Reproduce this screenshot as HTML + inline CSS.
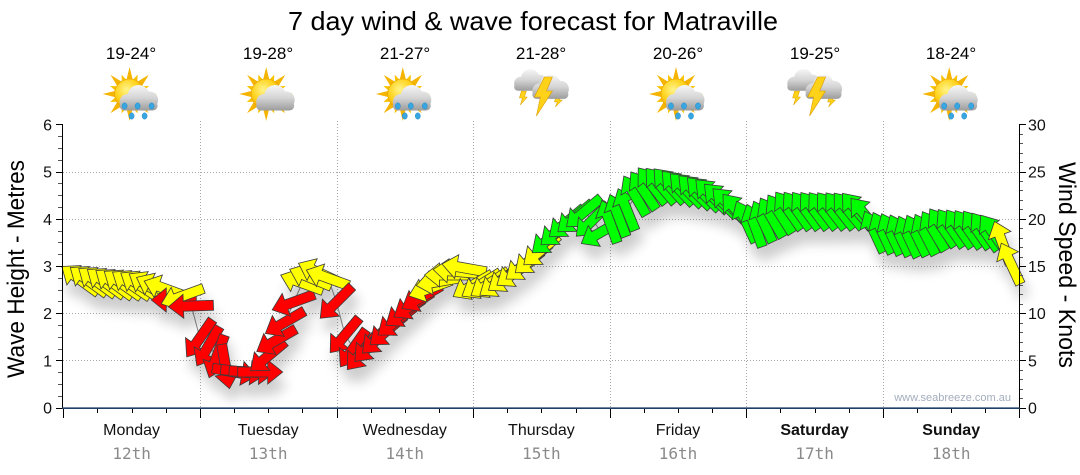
<!DOCTYPE html>
<html><head><meta charset="utf-8">
<style>
html,body{margin:0;padding:0;background:#fff;}
svg{display:block;}
text{font-family:"Liberation Sans",Arial,sans-serif;}
</style></head><body>
<svg id="s" width="1080" height="475" viewBox="0 0 1080 475" xmlns="http://www.w3.org/2000/svg">
<defs>
 <filter id="sh" filterUnits="userSpaceOnUse" x="0" y="0" width="1080" height="475">
  <feGaussianBlur in="SourceAlpha" stdDeviation="6"/>
  <feOffset dx="4" dy="13"/>
  <feComponentTransfer><feFuncA type="linear" slope="0.2"/></feComponentTransfer>
  <feMerge><feMergeNode/><feMergeNode in="SourceGraphic"/></feMerge>
 </filter>
 <radialGradient id="sunG" cx="40%" cy="35%" r="70%"><stop offset="0" stop-color="#fff48a"/><stop offset="0.55" stop-color="#ffd21a"/><stop offset="1" stop-color="#f09a00"/></radialGradient>
 <linearGradient id="cloudG" gradientUnits="userSpaceOnUse" x1="0" y1="-14" x2="0" y2="12"><stop offset="0" stop-color="#f6f6f6"/><stop offset="0.5" stop-color="#d4d4d4"/><stop offset="1" stop-color="#9a9a9a"/></linearGradient>
 <polygon id="arr" points="23,0 8,-12 8,-5 -22,-5 -22,5 8,5 8,12" stroke="#3a3a3a" stroke-width="0.8" stroke-linejoin="miter"/>
 <polygon id="rl" points="-3.2,-14 0,-27 3.2,-14" fill="#f5b400"/>
 <polygon id="rs" points="-2.6,-14 0,-21 2.6,-14" fill="#f8c200"/>
 <g id="sun">
  <use href="#rl"/><use href="#rs" transform="rotate(22.5)"/>
  <use href="#rl" transform="rotate(45)"/><use href="#rs" transform="rotate(67.5)"/>
  <use href="#rl" transform="rotate(90)"/><use href="#rs" transform="rotate(112.5)"/>
  <use href="#rl" transform="rotate(135)"/><use href="#rs" transform="rotate(157.5)"/>
  <use href="#rl" transform="rotate(180)"/><use href="#rs" transform="rotate(202.5)"/>
  <use href="#rl" transform="rotate(225)"/><use href="#rs" transform="rotate(247.5)"/>
  <use href="#rl" transform="rotate(270)"/><use href="#rs" transform="rotate(292.5)"/>
  <use href="#rl" transform="rotate(315)"/><use href="#rs" transform="rotate(337.5)"/>
  <circle r="15" fill="url(#sunG)" stroke="#e8a000" stroke-width="0.6"/>
 </g>
 <g id="cloud" fill="url(#cloudG)">
  <circle cx="-10" cy="3" r="8"/>
  <circle cx="1" cy="-3" r="11"/>
  <circle cx="12" cy="1" r="8.5"/>
  <rect x="-18" y="2" width="38" height="9.5" rx="4.75"/>
 </g>
 <g id="drops" fill="#38a6e0" stroke="#1f7fbf" stroke-width="0.4">
  <ellipse cx="-7" cy="106" rx="2.6" ry="3.2"/>
  <ellipse cx="6" cy="106" rx="2.6" ry="3.2"/>
  <ellipse cx="20" cy="106" rx="2.6" ry="3.2"/>
  <ellipse cx="0" cy="116" rx="2.6" ry="3.2"/>
  <ellipse cx="13" cy="116" rx="2.6" ry="3.2"/>
 </g>
 <g id="rainIcon">
  <use href="#sun" transform="translate(-2,94)"/>
  <use href="#cloud" transform="translate(6,99)"/>
  <use href="#drops"/>
 </g>
 <g id="pcIcon">
  <use href="#sun" transform="translate(-2,94)"/>
  <use href="#cloud" transform="translate(6,99)"/>
 </g>
 <g id="stormIcon">
  <polygon points="-20,91 -15,91 -17,97 -14,97 -21,105 -19,98 -22,98" fill="#ffd21a" stroke="#d99a00" stroke-width="0.5"/>
  <polygon points="15,95 20,95 18,100 21,100 14,107 16,102 13,102" fill="#ffd21a" stroke="#d99a00" stroke-width="0.5"/>
  <use href="#cloud" transform="translate(-12,81) scale(0.85)"/>
  <use href="#cloud" transform="translate(8,88) scale(0.95)"/>
  <polygon points="3,77 11,77 5,91 11,91 -5,116 -1,97 -7,97" fill="#ffd21a" stroke="#d99a00" stroke-width="0.6"/>
 </g>
</defs>
<rect width="1080" height="475" fill="#fff"/>
<g id="grid"></g>
<g id="lines"></g>
<g id="arrows" filter="url(#sh)"></g>
<g id="axes"></g>

<text x="533" y="30" font-size="26" text-anchor="middle" textLength="490" lengthAdjust="spacingAndGlyphs" fill="#000">7 day wind &amp; wave forecast for Matraville</text>

<g font-size="17" text-anchor="middle" fill="#000">
 <text x="131" y="59">19-24°</text>
 <text x="268" y="59">19-28°</text>
 <text x="405" y="59">21-27°</text>
 <text x="541" y="59">21-28°</text>
 <text x="678" y="59">20-26°</text>
 <text x="815" y="59">19-25°</text>
 <text x="951" y="59">18-24°</text>
</g>
<use href="#rainIcon" transform="translate(131.6,0)"/>
<use href="#pcIcon" transform="translate(268.2,0)"/>
<use href="#rainIcon" transform="translate(404.8,0)"/>
<use href="#stormIcon" transform="translate(541.4,0)"/>
<use href="#rainIcon" transform="translate(678,0)"/>
<use href="#stormIcon" transform="translate(814.6,0)"/>
<use href="#rainIcon" transform="translate(951.2,0)"/>

<text transform="translate(24,269) rotate(-90)" font-size="24" text-anchor="middle" textLength="218" lengthAdjust="spacingAndGlyphs" fill="#000">Wave Height - Metres</text>
<text transform="translate(1059,265) rotate(90)" font-size="24" text-anchor="middle" textLength="206" lengthAdjust="spacingAndGlyphs" fill="#000">Wind Speed - Knots</text>

<text x="1011" y="401" font-size="11" text-anchor="end" fill="#a3adbd">www.seabreeze.com.au</text>

<g font-size="16" text-anchor="middle" fill="#111">
 <text x="131.6" y="435">Monday</text>
 <text x="268.2" y="435">Tuesday</text>
 <text x="404.8" y="435">Wednesday</text>
 <text x="541.4" y="435">Thursday</text>
 <text x="678" y="435">Friday</text>
 <text x="814.6" y="435" font-weight="bold">Saturday</text>
 <text x="951.2" y="435" font-weight="bold">Sunday</text>
</g>
<g font-size="16" text-anchor="middle" fill="#8a8a8a">
 <text x="131.6" y="459" style="font-family:'DejaVu Sans Mono','Liberation Mono',monospace">12th</text>
 <text x="268.2" y="459" style="font-family:'DejaVu Sans Mono','Liberation Mono',monospace">13th</text>
 <text x="404.8" y="459" style="font-family:'DejaVu Sans Mono','Liberation Mono',monospace">14th</text>
 <text x="541.4" y="459" style="font-family:'DejaVu Sans Mono','Liberation Mono',monospace">15th</text>
 <text x="678" y="459" style="font-family:'DejaVu Sans Mono','Liberation Mono',monospace">16th</text>
 <text x="814.6" y="459" style="font-family:'DejaVu Sans Mono','Liberation Mono',monospace">17th</text>
 <text x="951.2" y="459" style="font-family:'DejaVu Sans Mono','Liberation Mono',monospace">18th</text>
</g>
</svg>
<script>
(function(){
const NS="http://www.w3.org/2000/svg";
function el(tag,attrs,parent){const e=document.createElementNS(NS,tag);for(const k in attrs)e.setAttribute(k,attrs[k]);parent.appendChild(e);return e;}
const X0=63.3, DW=136.6, HX=DW/24, Y0=407.7, MY=47.23, KY=9.447;
const grid=document.getElementById('grid'), axes=document.getElementById('axes');
for(let k=1;k<=5;k++){const y=Math.round(Y0-k*MY)+0.5;el('line',{x1:63,x2:1019,y1:y,y2:y,stroke:'#a8a8a8','stroke-dasharray':'1,2'},grid);}
for(let i=1;i<=6;i++){const x=Math.round(X0+i*DW)+0.5;el('line',{x1:x,x2:x,y1:121,y2:407,stroke:'#a8a8a8','stroke-dasharray':'1,2'},grid);}
el('line',{x1:62.5,x2:62.5,y1:124,y2:408,stroke:'#000','stroke-width':1},axes);
for(let m=0;m<=24;m++){const y=Math.round(Y0-m*MY/4)+0.5;const maj=m%4==0;el('line',{x1:maj?56:58,x2:62,y1:y,y2:y,stroke:maj?'#000':'#555'},axes);
 if(maj){const t=el('text',{x:52,y:Y0-m*MY/4+6,'font-size':16,'text-anchor':'end',fill:'#111'},axes);t.textContent=String(m/4);}}
el('line',{x1:1019.5,x2:1019.5,y1:124,y2:408,stroke:'#000','stroke-width':1},axes);
for(let k=0;k<=30;k++){const y=Math.round(Y0-k*KY)+0.5;const maj=k%5==0;el('line',{x1:1020,x2:maj?1026:1023,y1:y,y2:y,stroke:maj?'#000':'#555'},axes);
 if(maj){const t=el('text',{x:1028,y:Y0-k*KY+6,'font-size':16,'text-anchor':'start',fill:'#111'},axes);t.textContent=String(k);}}
el('line',{x1:62,x2:1020,y1:408.2,y2:408.2,stroke:'#1f3f66','stroke-width':1.6},axes);
for(let q=0;q<=28;q++){const x=Math.round(X0+q*DW/4)+0.5;const maj=q%4==0;el('line',{x1:x,x2:x,y1:409,y2:maj?418:413,stroke:'#000'},axes);}
const K=[[3,280,216,'Y'],[9,284,216,'Y'],[15,286,212,'Y'],[18,289,200,'Y'],[19.5,300,180,'R'],[21,296,160,'Y'],[22.5,306,178,'R'],
[24,338,125,'R'],[25.5,346,120,'R'],[27,356,110,'R'],[28.5,366,80,'R'],[30,372,10,'R'],[34.5,372,0,'R'],[36,356,140,'R'],[37.5,340,150,'R'],[39,322,150,'R'],[40.5,302,160,'R'],
[42,283,200,'Y'],[45,273,205,'Y'],[46.5,278,200,'Y'],[48,302,135,'R'],[49.5,335,130,'R'],[51,348,125,'R'],[52.5,352,130,'R'],[57,330,140,'R'],[60,312,145,'R'],[63,297,150,'R'],
[64.5,288,160,'Y'],[67.5,275,180,'Y'],[70.5,268,190,'Y'],[72,285,150,'Y'],[76.5,282,145,'Y'],[79.5,272,145,'Y'],[82.5,258,140,'Y'],[84,250,140,'Y'],
[85.5,238,140,'G'],[88.5,222,140,'G'],[91.5,212,140,'G'],[93,220,135,'G'],[94.5,232,150,'G'],[96,222,250,'G'],[99,210,248,'G'],[100.5,196,240,'G'],[103.5,186,232,'G'],
[106.5,186,228,'G'],[109.5,190,225,'G'],[114,196,225,'G'],[117,205,225,'G'],[118.5,212,230,'G'],[120,222,245,'G'],[121.5,226,250,'G'],[124.5,218,240,'G'],[127.5,211,235,'G'],
[136.5,211,232,'G'],[139.5,211,230,'G'],[141,216,230,'G'],[142.5,232,245,'G'],[148.5,237,245,'G'],[151.5,235,243,'G'],[154.5,228,236,'G'],[160.5,230,235,'G'],[163.5,234,235,'G'],
[165,243,250,'Y'],[166.5,264,245,'Y']];
const C={Y:'#ffff00',R:'#ff0000',G:'#00ff00'};
const pts=[];
for(let k=0;;k++){const h=3+1.5*k;if(h>166.5)break;let i=0;while(i<K.length-1&&K[i+1][0]<=h)i++;let y,a,c;
 if(i>=K.length-1){y=K[i][1];a=K[i][2];c=K[i][3];}else{const t=(h-K[i][0])/(K[i+1][0]-K[i][0]);y=K[i][1]+t*(K[i+1][1]-K[i][1]);a=K[i][2]+t*(K[i+1][2]-K[i][2]);c=K[i][3];}
 pts.push([X0+h*HX,y,a,c]);}
const lines=document.getElementById('lines');
el('polyline',{points:pts.map(p=>p[0].toFixed(1)+','+p[1].toFixed(1)).join(' '),fill:'none',stroke:'#888','stroke-width':1},lines);
const ag=document.getElementById('arrows');
for(const p of pts){el('use',{href:'#arr',transform:'translate('+p[0].toFixed(1)+','+p[1].toFixed(1)+') rotate('+p[2].toFixed(1)+')',fill:C[p[3]]},ag);}
})();
</script>
</body></html>
